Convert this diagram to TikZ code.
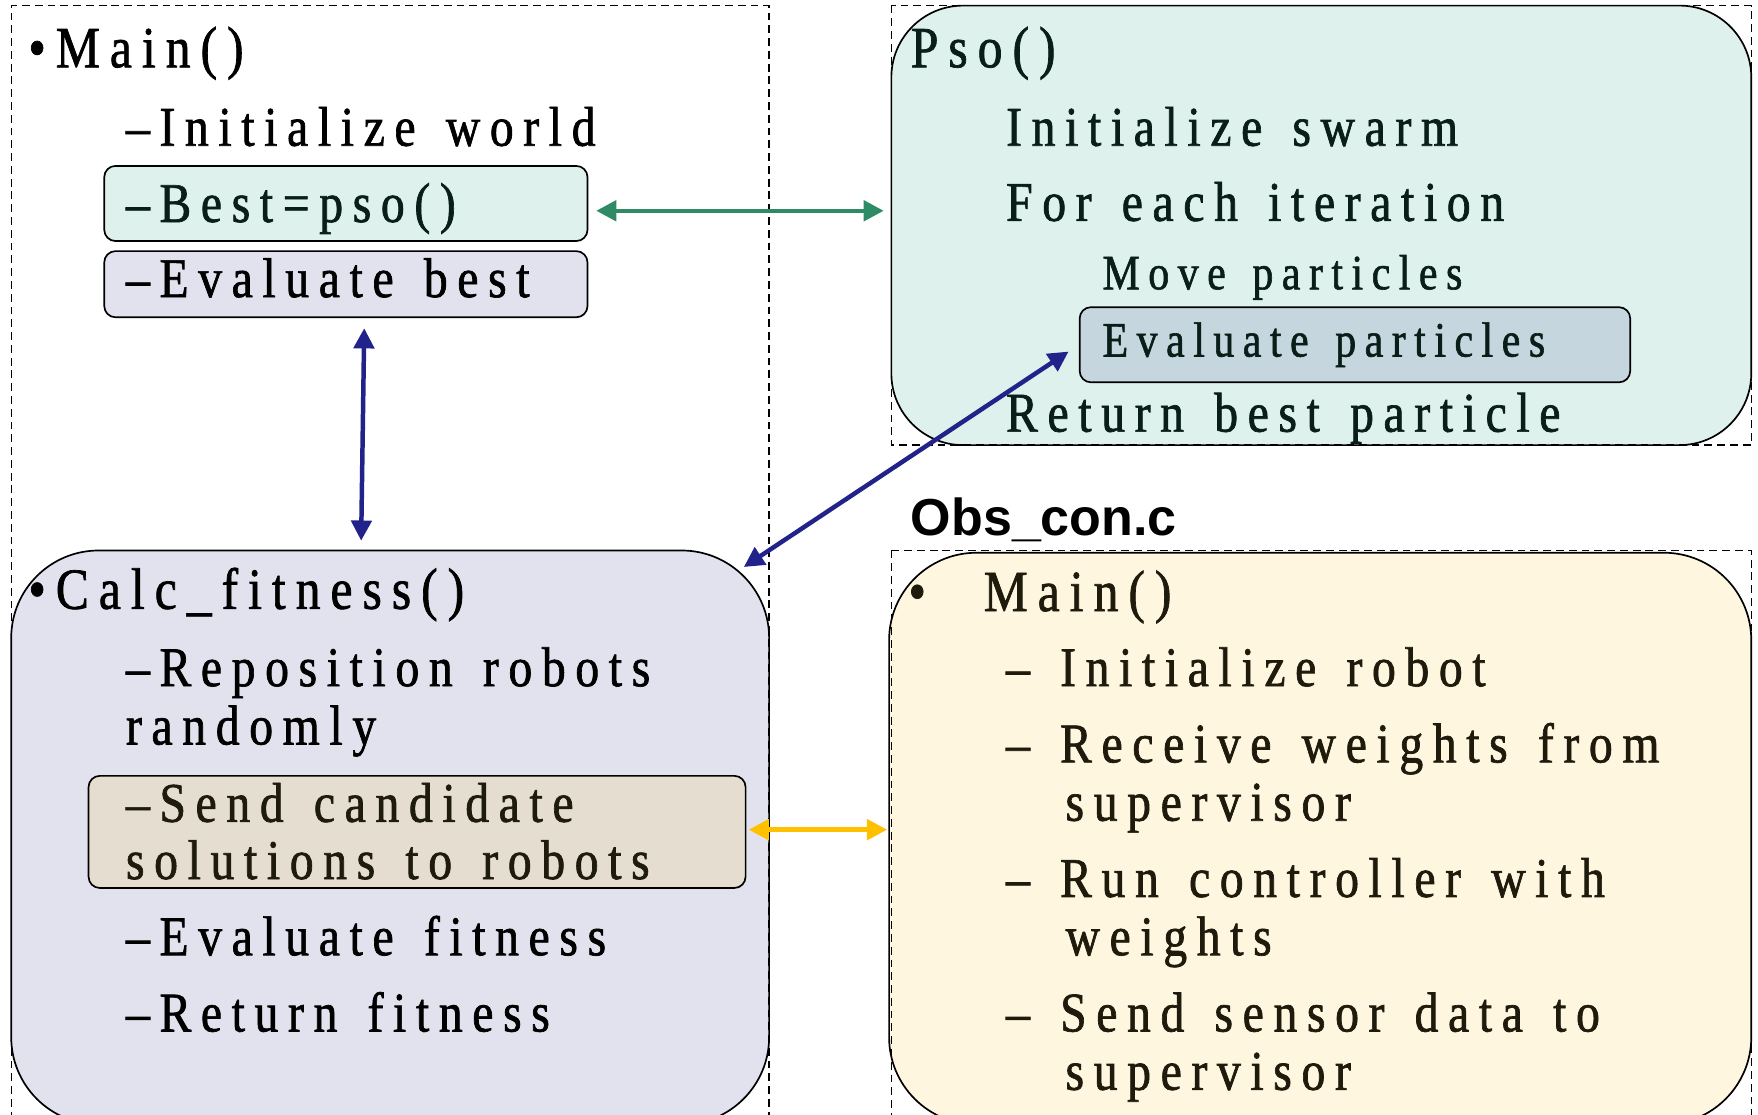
\documentclass[tikz,border=0pt]{standalone}
\usepackage{fontspec}
\usetikzlibrary{arrows.meta,calc}
\newfontfamily\reffont{Liberation Serif}[FakeStretch=0.85,FakeBold=1.2,LetterSpace=17.2,WordSpace=1.4,Ligatures=NoCommon]
\newfontfamily\labfont{Liberation Sans}
\definecolor{tealfill}{RGB}{222,241,236}
\definecolor{partfill}{RGB}{197,214,222}
\definecolor{lavfill}{RGB}{225,226,238}
\definecolor{sendfill}{RGB}{229,221,207}
\definecolor{obsfill}{RGB}{255,246,224}
\definecolor{arrgreen}{RGB}{46,139,102}
\definecolor{arrblue}{RGB}{34,34,139}
\definecolor{arrgold}{RGB}{255,192,0}
\definecolor{tealtext}{RGB}{10,30,25}
\definecolor{browntext}{RGB}{30,26,12}
\begin{document}
\begin{tikzpicture}[x=0.5pt,y=-0.5pt,
  rbox/.style={draw=black, line width=0.75pt, fill=#1, inner sep=0pt},
  dbox/.style={draw=black, line width=0.6pt, dash pattern=on 3.5pt off 2.2pt},
  txt/.style={anchor=base west, inner sep=0pt, font=\reffont\fontsize{25pt}{30pt}\selectfont},
  head/.style={anchor=base west, inner sep=0pt, font=\reffont\fontsize{26pt}{30pt}\selectfont},
  small/.style={anchor=base west, inner sep=0pt, font=\reffont\fontsize{22pt}{26pt}\selectfont},
  lab/.style={anchor=base west, inner sep=0pt, font=\labfont\bfseries\fontsize{23.2pt}{27pt}\selectfont},
  arr/.style={line width=2pt, {Triangle[length=9pt,width=9pt]}-{Triangle[length=9pt,width=9pt]}}
]
\useasboundingbox (0,0) rectangle (1568,994);
\clip (0,0) rectangle (1568,994);

% big boxes
\node[rbox=lavfill, rounded corners=39pt, minimum width=338pt, minimum height=256pt] (calc) at (348,747) {};
\node[rbox=tealfill, rounded corners=32pt, minimum width=383.5pt, minimum height=196pt] (pso) at (1178.5,201) {};
\node[rbox=obsfill, rounded corners=39pt, minimum width=384.5pt, minimum height=255pt] (obs) at (1177.5,748) {};

% inner boxes
\node[rbox=tealfill, rounded corners=5pt, minimum width=215.5pt, minimum height=33.5pt] (best) at (308.5,181.5) {};
\node[rbox=lavfill, rounded corners=5pt, minimum width=215.5pt, minimum height=29.5pt] (evalbest) at (308.5,253.5) {};
\node[rbox=partfill, rounded corners=5pt, minimum width=245.5pt, minimum height=33.5pt] (evalp) at (1208.5,307.5) {};
\node[rbox=sendfill, rounded corners=5pt, minimum width=293pt, minimum height=50pt] (send) at (372,742) {};

% dashed frames
\draw[dbox] (10,1010) -- (10,5) -- (686,5) -- (686,1010);
\draw[dbox] (795,5) rectangle (1562,397);
\draw[dbox] (795,491) rectangle (1562,1010);

% left: Main
\node[head] (m0) at (25,60) {•Main()};
\node[txt] (m1) at (112,130) {–Initialize world};
\node[txt, text=tealtext] (m2) at (112,198) {–Best=pso()};
\node[txt] (m3) at (112,265) {–Evaluate best};

% left: Calc_fitness
\node[head] (c0) at (25,543) {•Calc\_fitness()};
\node[txt] (c1) at (112,612) {–Reposition robots};
\node[txt] (c2) at (112,664) {randomly};
\node[txt, text=browntext] (c3) at (112,733) {–Send candidate};
\node[txt, text=browntext] (c4) at (112,784) {solutions to robots};
\node[txt] (c5) at (112,852) {–Evaluate fitness};
\node[txt] (c6) at (112,920) {–Return fitness};

% Pso
\node[head, text=tealtext] (p0) at (812,60) {Pso()};
\node[txt, text=tealtext] (p1) at (897,130) {Initialize swarm};
\node[txt, text=tealtext] (p2) at (897,197) {For each iteration};
\node[small, text=tealtext] (p3) at (983,258) {Move particles};
\node[small, text=tealtext] (p4) at (983,318) {Evaluate particles};
\node[txt, text=tealtext] (p5) at (897,385) {Return best particle};

% Obs_con.c
\node[lab] (o) at (812,478) {Obs\_con.c};
\node[head, text=browntext] (ob) at (810,545) {•};
\node[head, text=browntext] (o0) at (877,545) {Main()};
\node[txt, text=browntext] (o1) at (897,612) {– Initialize robot};
\node[txt, text=browntext] (o2) at (897,680) {– Receive weights from};
\node[txt, text=browntext] (o3) at (950,732) {supervisor};
\node[txt, text=browntext] (o4) at (897,800) {– Run controller with};
\node[txt, text=browntext] (o5) at (950,852) {weights};
\node[txt, text=browntext] (o6) at (897,920) {– Send sensor data to};
\node[txt, text=browntext] (o7) at (950,972) {supervisor};

% connectors
\draw[arr, arrgreen, shorten <=3.5pt, shorten >=3pt] ([yshift=-3.25pt]best.east) -- ([yshift=-3.25pt]best.east -| pso.west);
\draw[arr, arrblue, shorten <=4.5pt, shorten >=4pt] ([xshift=8.25pt]evalbest.south) -- ([xshift=-13pt]calc.north);
\draw[arr, arrblue, shorten <=5.5pt, shorten >=-14pt] (evalp.west) -- (calc.north east);
\draw[arr, arrgold, shorten <=1pt, shorten >=0.5pt] ([yshift=1pt]send.east) -- ([yshift=1pt]send.east -| obs.west);
\end{tikzpicture}
\end{document}
